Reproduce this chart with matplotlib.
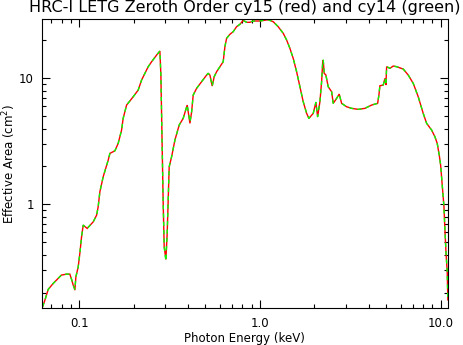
import numpy as np
import matplotlib
matplotlib.use("Agg")
import matplotlib.pyplot as plt
from matplotlib.ticker import LogLocator, FixedLocator, FixedFormatter, NullFormatter

# Photon energy (keV) and effective area (cm^2)
energy = [0.0628, 0.0647, 0.0675, 0.0719, 0.0798, 0.0853, 0.0889, 0.0909, 0.0928, 0.0948,
          0.0960, 0.0989, 0.1010, 0.1032, 0.1054, 0.1108, 0.1197, 0.1250, 0.1275, 0.1303,
          0.1359, 0.1449, 0.1481, 0.1578, 0.1645, 0.1718, 0.1753, 0.1831, 0.1992, 0.2123,
          0.2216, 0.2312, 0.2411, 0.2518, 0.2684, 0.2798, 0.2834, 0.2860, 0.2918, 0.2956,
          0.3020, 0.3071, 0.3150, 0.3248, 0.3388, 0.3578, 0.3764, 0.3962, 0.4102, 0.4192,
          0.4277, 0.4466, 0.4761, 0.5072, 0.5176, 0.5290, 0.5447, 0.5587, 0.5760, 0.6007,
          0.6266, 0.6403, 0.6543, 0.6823, 0.7115, 0.7431, 0.7750, 0.8082, 0.8443, 0.8805,
          0.9182, 1.000, 1.111, 1.185, 1.262, 1.346, 1.405, 1.465, 1.528, 1.596,
          1.664, 1.736, 1.813, 1.866, 1.972, 2.040, 2.085, 2.147, 2.194, 2.223,
          2.239, 2.268, 2.317, 2.386, 2.493, 2.544, 2.657, 2.745, 2.831, 3.017,
          3.216, 3.498, 3.808, 4.148, 4.477, 4.551, 4.609, 4.808, 4.913, 4.976,
          5.021, 5.236, 5.461, 5.702, 6.204, 6.611, 7.045, 7.508, 8.000, 8.356,
          8.906, 9.288, 9.563, 9.811, 9.987, 10.24, 10.42, 10.55, 10.69, 10.86,
          10.95]

area_cy15 = [0.154, 0.174, 0.212, 0.236, 0.275, 0.280, 0.280, 0.254, 0.229, 0.209,
             0.266, 0.320, 0.411, 0.553, 0.685, 0.645, 0.727, 0.822, 0.957, 1.259,
             1.656, 2.247, 2.540, 2.663, 3.049, 3.888, 4.815, 6.139, 7.145, 8.075,
             9.694, 10.96, 12.37, 13.54, 15.30, 16.47, 10.62, 5.113, 1.024, 0.461,
             0.366, 0.592, 1.988, 2.387, 3.238, 4.260, 4.815, 6.139, 4.395, 5.432,
             7.370, 8.330, 9.397, 10.62, 10.96, 10.62, 8.688, 10.30, 11.28, 12.37,
             13.54, 17.81, 20.77, 22.35, 23.44, 25.68, 26.83, 28.80, 27.83, 27.83,
             28.50, 28.50, 29.20, 28.13, 25.68, 22.76, 20.14, 17.31, 14.41, 11.28,
             8.578, 6.522, 5.275, 4.815, 5.275, 6.451, 4.958, 6.522, 9.397, 13.15,
             13.97, 10.96, 10.62, 8.578, 7.830, 6.334, 6.940, 7.505, 6.334, 5.953,
             5.781, 5.675, 5.781, 6.139, 6.334, 7.370, 8.737, 8.847, 10.00, 8.847,
             12.37, 12.01, 12.52, 12.37, 11.85, 10.62, 9.127, 7.145, 5.275, 4.395,
             3.888, 3.440, 3.049, 2.462, 2.051, 1.299, 0.957, 0.625, 0.420, 0.292,
             0.175]

area_cy14 = [0.154, 0.174, 0.212, 0.236, 0.275, 0.280, 0.280, 0.254, 0.229, 0.212,
             0.266, 0.320, 0.411, 0.553, 0.685, 0.645, 0.727, 0.822, 0.957, 1.259,
             1.656, 2.247, 2.540, 2.663, 3.049, 3.888, 4.815, 6.139, 7.145, 8.075,
             9.694, 10.96, 12.37, 13.54, 15.30, 16.47, 10.62, 5.113, 1.024, 0.461,
             0.356, 0.592, 1.988, 2.387, 3.238, 4.260, 4.815, 6.139, 4.500, 5.432,
             7.370, 8.330, 9.397, 10.62, 10.96, 10.62, 8.688, 10.30, 11.28, 12.37,
             13.54, 17.81, 20.77, 22.35, 23.44, 25.68, 26.83, 28.80, 27.83, 27.83,
             28.50, 28.50, 29.20, 28.13, 25.68, 22.76, 20.14, 17.31, 14.41, 11.28,
             8.578, 6.522, 5.275, 4.815, 5.275, 6.451, 4.958, 6.522, 9.397, 13.15,
             13.97, 10.96, 10.62, 8.578, 7.830, 6.334, 6.940, 7.505, 6.334, 5.953,
             5.781, 5.675, 5.781, 6.139, 6.334, 7.370, 8.737, 8.847, 10.00, 8.847,
             12.37, 12.01, 12.52, 12.37, 11.85, 10.62, 9.127, 7.145, 5.275, 4.395,
             3.888, 3.440, 3.049, 2.462, 2.051, 1.299, 0.957, 0.625, 0.420, 0.292,
             0.175]

x_ticks = [0.1, 1.0, 10.0]
x_tick_labels = ["0.1", "1.0", "10.0"]
y_ticks = [1, 10]
y_tick_labels = ["1", "10"]

fig = plt.figure(figsize=(4.63, 3.45), dpi=100)
ax = fig.add_axes([42.3 / 463, 1 - 308.3 / 345, (447.5 - 42.3) / 463, (308.3 - 19.3) / 345])

ax.plot(energy, area_cy15, color="red", lw=1.0, solid_joinstyle="miter")
ax.plot(energy, area_cy14, color="#00ff00", lw=1.0, dashes=(3, 3))

ax.set_xscale("log")
ax.set_yscale("log")
ax.set_xlim(0.0626, 10.9)
ax.set_ylim(0.15, 29.4)

ax.xaxis.set_major_locator(FixedLocator(x_ticks))
ax.xaxis.set_major_formatter(FixedFormatter(x_tick_labels))
ax.xaxis.set_minor_locator(LogLocator(base=10, subs=np.arange(2, 10)))
ax.xaxis.set_minor_formatter(NullFormatter())
ax.yaxis.set_major_locator(FixedLocator(y_ticks))
ax.yaxis.set_major_formatter(FixedFormatter(y_tick_labels))
ax.yaxis.set_minor_locator(LogLocator(base=10, subs=np.arange(2, 10)))
ax.yaxis.set_minor_formatter(NullFormatter())

ax.tick_params(which="both", direction="in", top=True, right=True, color="black", width=0.8)
ax.tick_params(which="major", length=6, labelsize=8.5, pad=6)
ax.tick_params(which="minor", length=3)
for s in ax.spines.values():
    s.set_linewidth(0.8)

ax.set_xlabel("Photon Energy (keV)", fontsize=8.5, labelpad=2)
ax.set_ylabel("Effective Area (cm$^2$)", fontsize=8.5, labelpad=1)
ax.set_title("HRC-I LETG Zeroth Order cy15 (red) and cy14 (green)", fontsize=11.5, pad=5)

fig.savefig("out.png", dpi=100)
